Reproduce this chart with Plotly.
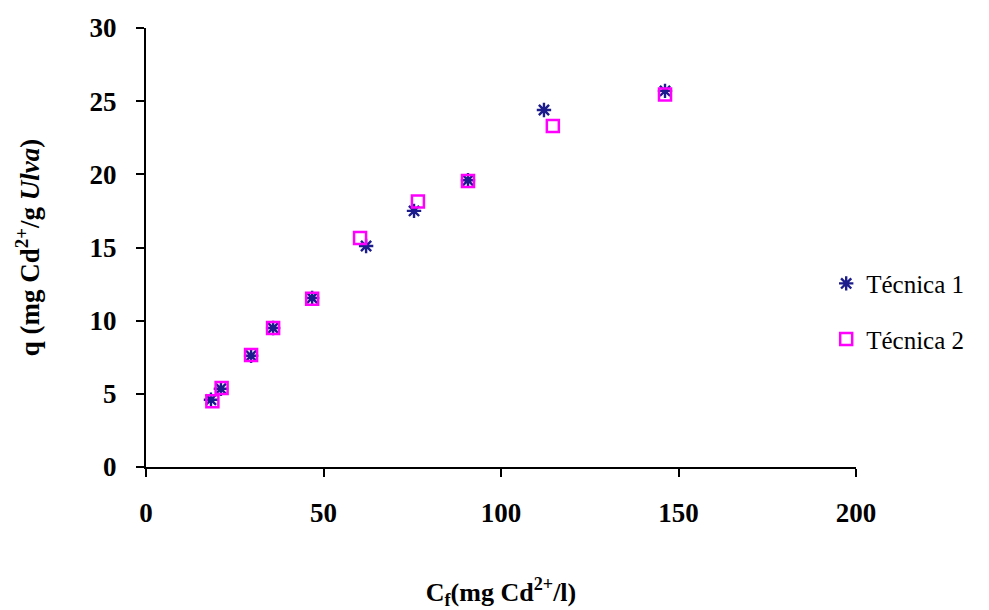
import plotly.graph_objects as go

# Cadmium uptake by Ulva: final concentration vs. adsorbed amount
cf_t1 = [18.3, 21.1, 29.6, 35.8, 46.8, 62.0, 75.5, 90.7, 112.1, 146.2]
q_t1 = [4.6, 5.35, 7.6, 9.5, 11.55, 15.1, 17.5, 19.6, 24.4, 25.7]

cf_t2 = [18.7, 21.3, 29.6, 35.8, 46.8, 60.3, 76.6, 90.7, 114.6, 146.2]
q_t2 = [4.5, 5.4, 7.65, 9.5, 11.5, 15.65, 18.15, 19.55, 23.3, 25.45]

x_ticks = [0, 50, 100, 150, 200]
y_ticks = [0, 5, 10, 15, 20, 25, 30]

serif = "Liberation Serif"

fig = go.Figure()
fig.add_trace(go.Scatter(
    x=cf_t1, y=q_t1, mode="markers", name="Técnica 1", legendgroup="t1",
    marker=dict(symbol="asterisk-open", size=12, color="#1c1c8c",
                line=dict(color="#1c1c8c", width=2.4)),
))
fig.add_trace(go.Scatter(
    x=cf_t2, y=q_t2, mode="markers", name="Técnica 2", legendgroup="t2",
    marker=dict(symbol="square-open", size=12, color="#ff00ff",
                line=dict(color="#ff00ff", width=2.5)),
))

axis_common = dict(
    showline=True, linecolor="black", linewidth=2,
    ticks="outside", ticklen=8, tickwidth=2, tickcolor="black",
    showgrid=False, zeroline=False, automargin=False,
    tickfont=dict(family=serif, size=27, color="black", weight="bold"),
)

fig.update_xaxes(
    range=[0, 200], tickvals=x_ticks, ticklabelstandoff=13,
    title=dict(text="C<sub>f</sub>(mg Cd<sup>2+</sup>/l)", standoff=56,
               font=dict(family=serif, size=26, color="black", weight="bold")),
    **axis_common,
)
fig.update_yaxes(
    range=[0, 30], tickvals=y_ticks, ticklabelstandoff=14,
    title=dict(text="q (mg Cd<sup>2+</sup>/g <i>Ulva</i>)", standoff=42,
               font=dict(family=serif, size=27, color="black", weight="bold")),
    **axis_common,
)

fig.update_layout(
    width=989, height=610,
    margin=dict(l=146, r=133, t=28, b=143, autoexpand=False),
    paper_bgcolor="white", plot_bgcolor="white",
    font=dict(family=serif),
    showlegend=True,
    legend=dict(x=0.958, y=0.355, xanchor="left", yanchor="middle",
                font=dict(family=serif, size=25, color="black"),
                itemwidth=30, tracegroupgap=20, bgcolor="rgba(0,0,0,0)"),
)

fig.write_html("out.html")
